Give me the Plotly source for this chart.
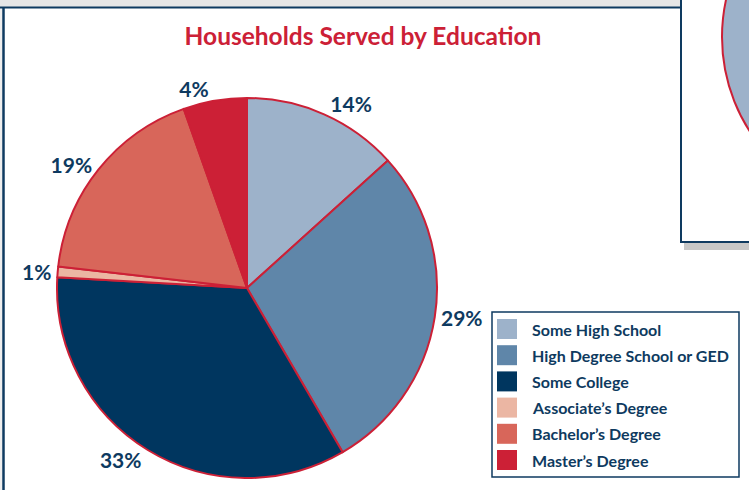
import plotly.graph_objects as go

W, H = 749, 490

# ---- data ----
categories = ["Some High School", "High Degree School or GED", "Some College",
              "Associate’s Degree", "Bachelor’s Degree", "Master’s Degree"]
# slice shares
shares = [13.3, 28.3, 34.3, 0.9, 17.8, 5.4]
# percentage labels printed on the chart
pct_labels = ["14%", "29%", "33%", "1%", "19%", "4%"]
colors = ["#9DB2CA", "#5F86A9", "#00365F", "#EBB6A3", "#D8665A", "#CC2036"]

NAVY = "#0E3A60"
RED = "#CC2036"
FONT = "Lato"


def px(x):
    return x / W


def py(y):
    return 1 - y / H


# pie geometry (pixels)
cx, cy, r = 247, 288, 190

fig = go.Figure()
fig.add_trace(go.Pie(
    labels=categories,
    values=shares,
    text=pct_labels,
    textinfo="text",
    textposition="outside",
    textfont=dict(family=FONT, size=21, color=NAVY, weight="bold"),
    marker=dict(colors=colors, line=dict(color=RED, width=2)),
    sort=False,
    direction="clockwise",
    rotation=0,
    showlegend=False,
    hoverinfo="label+percent",
    domain=dict(x=[px(cx - r), px(cx + r)], y=[py(cy + r), py(cy - r)]),
))

shapes = []
annotations = []

# page decorations: top bar, frame lines
shapes.append(dict(type="rect", xref="paper", yref="paper",
                   x0=0, x1=1, y0=py(7), y1=1, fillcolor="#E6E6E6", line=dict(width=0), layer="below"))
shapes.append(dict(type="line", xref="paper", yref="paper",
                   x0=0, x1=px(681), y0=py(7.5), y1=py(7.5), line=dict(color="#0E3A60", width=2)))
shapes.append(dict(type="rect", xref="paper", yref="paper",
                   x0=0, x1=px(2.5), y0=0, y1=py(7), fillcolor="#EEEEEE", line=dict(width=0), layer="below"))
shapes.append(dict(type="line", xref="paper", yref="paper",
                   x0=px(3.5), x1=px(3.5), y0=0, y1=py(7), line=dict(color="#0E3A60", width=2.5)))

# neighbouring panel (top right)
shapes.append(dict(type="rect", xref="paper", yref="paper",
                   x0=px(684), x1=1, y0=py(250), y1=py(242), fillcolor="rgba(0,0,0,0.22)", line=dict(width=0)))
shapes.append(dict(type="rect", xref="paper", yref="paper",
                   x0=px(681), x1=px(760), y0=py(242), y1=py(-5), fillcolor="white",
                   line=dict(color="#0E3A60", width=2)))
shapes.append(dict(type="circle", xref="paper", yref="paper",
                   x0=px(722), x1=px(1070), y0=py(211), y1=py(-137), fillcolor="#9DB2CA",
                   line=dict(color=RED, width=2)))

# legend box
lx0, ly0, lx1, ly1 = 492, 312, 739, 477
shapes.append(dict(type="rect", xref="paper", yref="paper",
                   x0=px(lx0), x1=px(lx1), y0=py(ly1), y1=py(ly0), fillcolor="white",
                   line=dict(color=NAVY, width=1.5)))
row0, gap, sw = 329, 26.2, 20
for i, (cat, col) in enumerate(zip(categories, colors)):
    yc = row0 + i * gap
    shapes.append(dict(type="rect", xref="paper", yref="paper",
                       x0=px(497), x1=px(497 + sw), y0=py(yc + sw / 2), y1=py(yc - sw / 2),
                       fillcolor=col, line=dict(width=0)))
    annotations.append(dict(text=cat, xref="paper", yref="paper", x=px(530), y=py(yc),
                            xanchor="left", yanchor="middle", showarrow=False,
                            font=dict(family=FONT, size=16, color=NAVY, weight="bold")))

fig.update_layout(
    width=W, height=H,
    margin=dict(l=0, r=0, t=0, b=0),
    paper_bgcolor="white",
    plot_bgcolor="white",
    title=dict(text="Households Served by Education", x=px(363), y=py(36),
               xanchor="center", yanchor="middle", xref="paper", yref="paper",
               font=dict(family=FONT, size=24.5, color=RED, weight="bold")),
    shapes=shapes,
    annotations=annotations,
)

fig.write_html("out.html")
